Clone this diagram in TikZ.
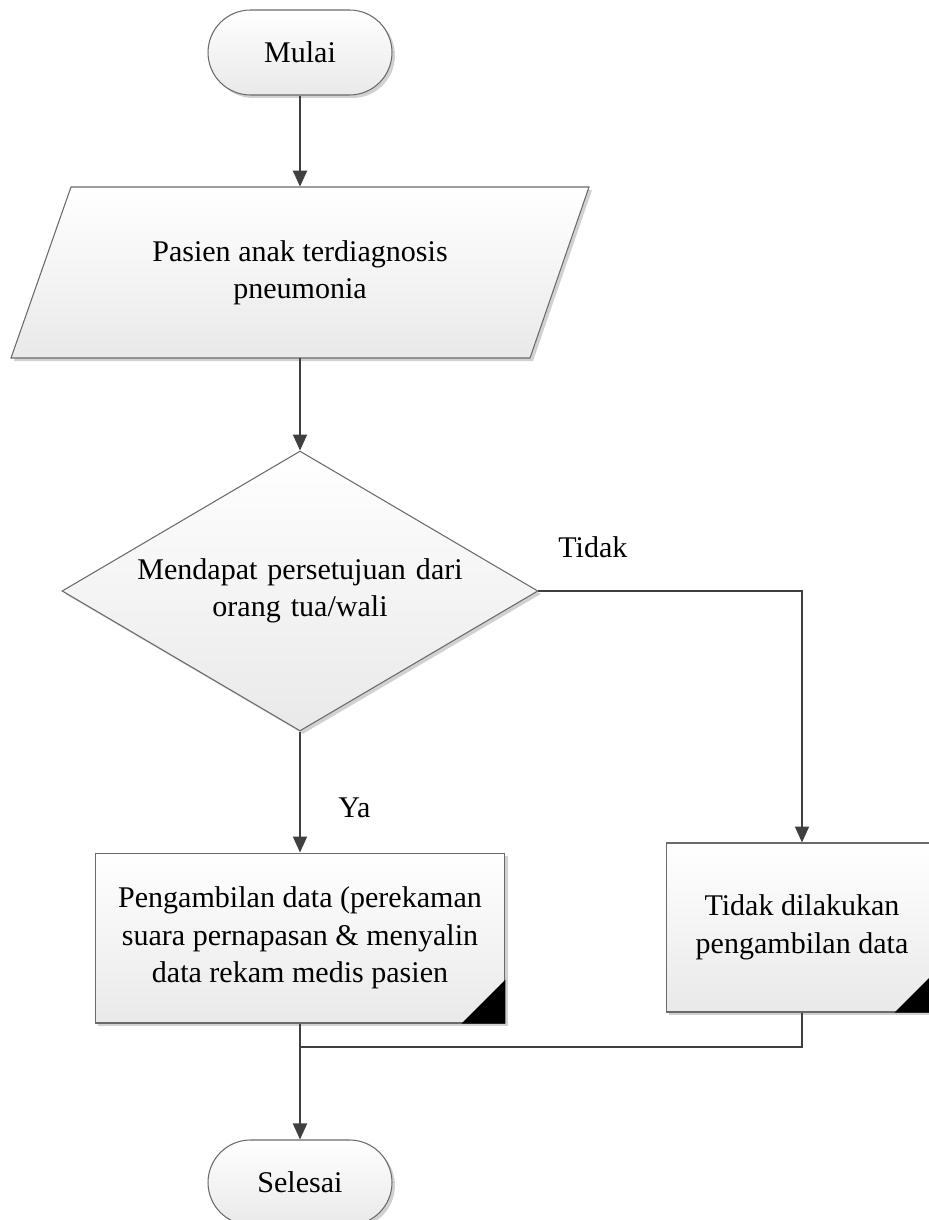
\documentclass[tikz,border=0pt]{standalone}
\usepackage{fontspec}
\setmainfont{Liberation Serif}
\usetikzlibrary{shapes.misc,shapes.geometric,shadows,arrows.meta}
\definecolor{bordercol}{HTML}{6A6A6A}
\definecolor{linecol}{HTML}{404040}
\definecolor{fillbot}{HTML}{E9E9E9}
\begin{document}
\begin{tikzpicture}[x=0.02cm,y=-0.02cm,
  font=\fontsize{17.1}{21.3}\selectfont,
  shadefill/.style={top color=white, bottom color=fillbot, draw=bordercol, line width=0.6pt},
  shadowed/.style={drop shadow={shadow xshift=0.06cm, shadow yshift=-0.06cm, fill=black, opacity=0.18}},
  term/.style={rounded rectangle, shadefill, shadowed, minimum width=3.68cm, minimum height=1.7cm, inner sep=0pt},
  proc/.style={rectangle, shadefill, shadowed, inner sep=0pt, align=center},
  conn/.style={draw=linecol, line width=1.1pt},
  arr/.style={conn, -{Triangle[length=0.32cm,width=0.28cm]}},
  lbl/.style={inner sep=0pt, anchor=base west}
]
\useasboundingbox (0,0) rectangle (929,1220);
\clip (0,0) rectangle (929,1220);
\fill[white] (0,0) rectangle (929,1220);

% start
\node[term] (start) at (300,52.5) {Mulai};

% input parallelogram
\path[shadefill, shadowed] (71,187) -- (589,187) -- (530,358) -- (11,358) -- cycle;
\node[inner sep=0pt, minimum width=10.36cm, minimum height=3.42cm, align=center] (input) at (300,272.5)
  {Pasien anak terdiagnosis\\pneumonia};

% decision
\node[diamond, shadefill, shadowed, aspect=1.7, inner sep=0pt,
      minimum width=9.52cm, minimum height=5.6cm, text width=7.2cm, align=center] (dec) at (300,591)
  {Mendapat persetujuan dari\\orang tua/wali};

% processes
\node[proc, minimum width=8.2cm, minimum height=3.4cm] (procA) at (300,938)
  {Pengambilan data (perekaman\\suara pernapasan \& menyalin\\data rekam medis pasien};
\fill[black] (procA.south east) -- ++(-44,0) -- ++(44,-44) -- cycle;

\node[proc, minimum width=5.44cm, minimum height=3.38cm] (procB) at (802,927.5)
  {Tidak dilakukan\\pengambilan data};
\fill[black] (procB.south east) -- ++(-44,0) -- ++(44,-44) -- cycle;

% end
\node[term] (stop) at (300,1182.5) {Selesai};

\coordinate (merge) at (300,1047);

% connectors
\draw[arr] (start.south) -- (input.north);
\draw[arr] (input.south) -- (dec.north);
\draw[arr] (dec.south) -- (procA.north);
\draw[arr] (dec.east) -| (procB.north);
\draw[arr] (procA.south) -- (stop.north);
\draw[conn] (procB.south) |- (merge);

% labels
\node[lbl] (tidak) at (558,557) {Tidak};
\node[lbl] (ya) at (338,817) {Ya};
\end{tikzpicture}
\end{document}
